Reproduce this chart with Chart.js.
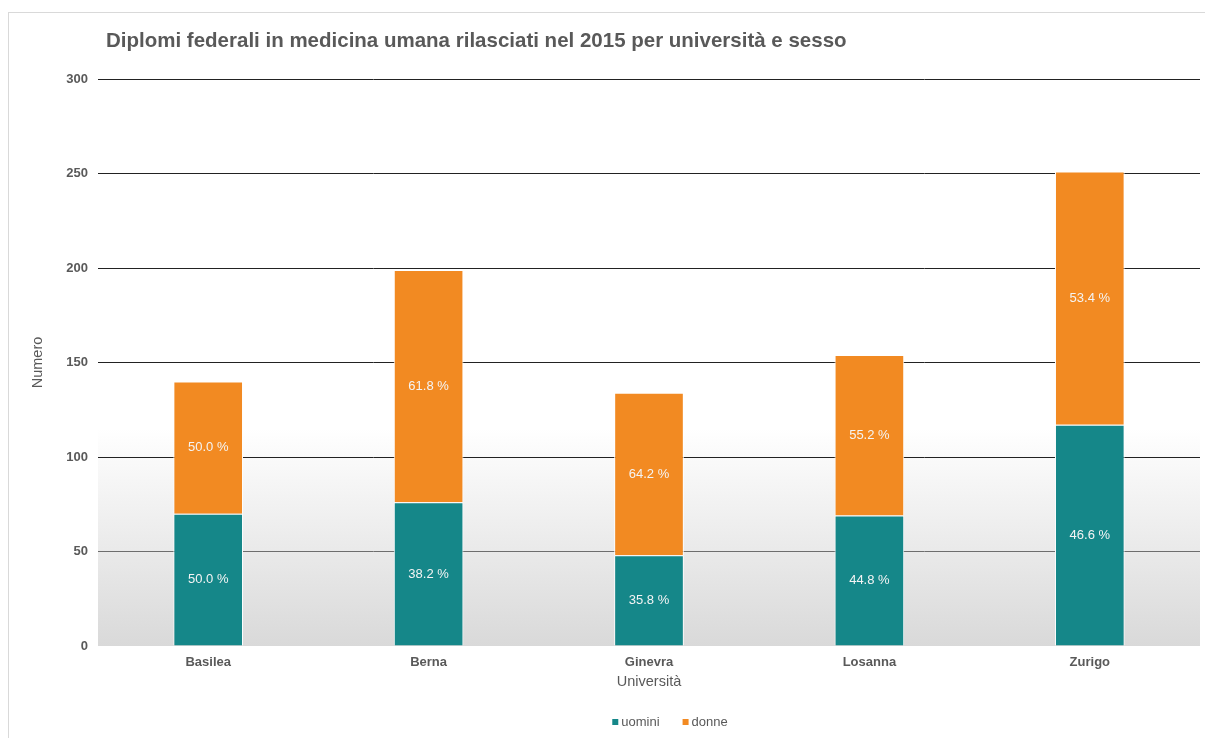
<!DOCTYPE html>
<html>
<head>
<meta charset="utf-8">
<script src="https://cdn.jsdelivr.net/npm/chart.js@4.4.1/dist/chart.umd.min.js"></script>
<style>
    html, body { margin: 0; padding: 0; background: #fff; }
    #frame { position: absolute; left: 8px; top: 12px; width: 1220px; height: 760px; border: 1px solid #d9d9d9; }
    #wrap { position: absolute; left: 0; top: 0; width: 1205px; height: 738px; }
</style>
</head>
<body>
<div id="frame"></div>
<div id="wrap"><canvas id="chart"></canvas></div>
<script>
/* ---------- 資料 ---------- */
const universities = ["Basilea", "Berna", "Ginevra", "Losanna", "Zurigo"];
const uomini = [70, 76, 48, 69, 117];
const donne = [70, 123, 86, 85, 134];
const yTicks = [0, 50, 100, 150, 200, 250, 300];

const titleText = "Diplomi federali in medicina umana rilasciati nel 2015 per università e sesso";
const grey = "#595959";
const font = "'Liberation Sans', Arial, sans-serif";

/* ---------- 背景漸層 ---------- */
const bgPlugin = {
    id: "bg",
    beforeDraw(chart) {
        const { ctx, chartArea: a, scales } = chart;
        const top = scales.y.getPixelForValue(115);
        const g = ctx.createLinearGradient(0, top, 0, a.bottom);
        g.addColorStop(0, "#ffffff");
        g.addColorStop(1, "#d9d9d9");
        ctx.save();
        ctx.fillStyle = g;
        ctx.fillRect(a.left, top, a.right - a.left, a.bottom - top);
        ctx.restore();
    }
};

/* ---------- 標題 + 百分比 + 圖例 ---------- */
const textPlugin = {
    id: "texts",
    afterDatasetsDraw(chart) {
        const { ctx } = chart;
        ctx.save();
        ctx.font = "bold 20.5px " + font;
        ctx.fillStyle = grey;
        ctx.textAlign = "left";
        ctx.textBaseline = "middle";
        ctx.fillText(titleText, 106, 41);

        ctx.font = "13px " + font;
        ctx.fillStyle = "#f4f4f4";
        ctx.textAlign = "center";
        chart.data.datasets.forEach((ds, di) => {
            chart.getDatasetMeta(di).data.forEach((bar, i) => {
                const total = uomini[i] + donne[i];
                const pct = (ds.data[i] / total * 100).toFixed(1) + " %";
                const y = (bar.y + bar.base) / 2;
                ctx.fillText(pct, bar.x, y);
            });
        });

        // 圖例
        ctx.font = "13px " + font;
        ctx.textAlign = "left";
        const box = 6, gap = 3, space = 23;
        const widths = chart.data.datasets.map(ds => box + gap + ctx.measureText(ds.label).width);
        const totalW = widths.reduce((a, b) => a + b, 0) + space * (widths.length - 1);
        let x = 670 - totalW / 2;
        const y = 722;
        chart.data.datasets.forEach((ds, di) => {
            ctx.fillStyle = ds.backgroundColor;
            ctx.fillRect(x, y - box / 2, box, box);
            ctx.fillStyle = grey;
            ctx.fillText(ds.label, x + box + gap, y);
            x += widths[di] + space;
        });
        ctx.restore();
    }
};

new Chart(document.getElementById("chart"), {
    type: "bar",
    data: {
        labels: universities,
        datasets: [
            { label: "uomini", data: uomini, backgroundColor: "#158789", borderColor: "#ffffff", borderWidth: 1 },
            { label: "donne", data: donne, backgroundColor: "#f28a22", borderColor: "#ffffff", borderWidth: 1 }
        ]
    },
    options: {
        responsive: true,
        maintainAspectRatio: false,
        animation: false,
        devicePixelRatio: 1,
        categoryPercentage: 1,
        barPercentage: 0.316,
        layout: { padding: { top: 79, right: 5, left: 0, bottom: 31 } },
        plugins: {
            title: { display: false },
            tooltip: { enabled: false },
            legend: { display: false }
        },
        scales: {
            x: {
                stacked: true,
                grid: { display: false, drawTicks: false },
                border: { display: false },
                ticks: { color: grey, padding: 9, font: { family: font, size: 13, weight: "bold" } },
                title: { display: true, text: "Università", color: grey, padding: { top: 0, bottom: 16 }, font: { family: font, size: 14.5 } },
                afterFit(s) { s.height = 61; }
            },
            y: {
                stacked: true,
                min: 0, max: 300,
                afterBuildTicks(s) { s.ticks = yTicks.map(v => ({ value: v })); },
                grid: {
                    drawTicks: false,
                    color: c => c.tick && c.tick.value === 0 ? "rgba(0,0,0,0)" : (c.tick && c.tick.value === 50 ? "#6e6e6e" : "#222222"),
                    lineWidth: 1
                },
                border: { display: false },
                ticks: { color: grey, padding: 10, font: { family: font, size: 13, weight: "bold" } },
                title: { display: true, text: "Numero", color: grey, padding: { top: 29, bottom: 0 }, font: { family: font, size: 14.5 } },
                afterFit(s) { s.width = 98; }
            }
        }
    },
    plugins: [bgPlugin, textPlugin]
});
</script>
</body>
</html>
